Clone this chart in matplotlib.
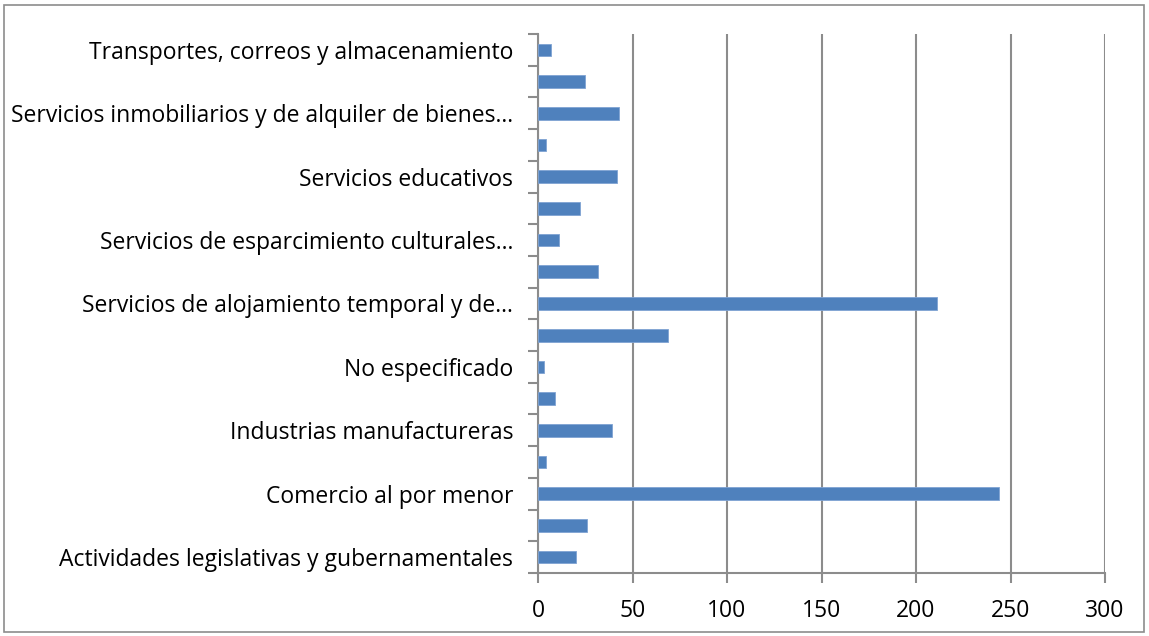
import matplotlib
matplotlib.use("Agg")
import matplotlib.pyplot as plt
from matplotlib.patches import Rectangle

# categories bottom to top; only every other one carries a label
labels = [
    "Actividades legislativas y gubernamentales", "",
    "Comercio al por menor", "",
    "Industrias manufactureras", "",
    "No especificado", "",
    "Servicios de alojamiento temporal y de\u2026", "",
    "Servicios de esparcimiento culturales\u2026", "",
    "Servicios educativos", "",
    "Servicios inmobiliarios y de alquiler de bienes\u2026", "",
    "Transportes, correos y almacenamiento",
]
values = [20, 26, 244, 4, 39, 9, 3, 69, 211, 32, 11, 22, 42, 4, 43, 25, 7]
xticks = [0, 50, 100, 150, 200, 250, 300]

plt.rcParams['font.family'] = ['Open Sans', 'DejaVu Sans']
grid_col = '#8c8c8c'
bar_col = '#4f81bd'
fs = 16.5

fig = plt.figure(figsize=(11.49, 6.36), dpi=100)
ax = fig.add_axes([538/1149, (636-573)/636, (1105-538)/1149, (573-34)/636])

pos = list(range(len(values)))
ax.barh(pos, values, height=0.4, color=bar_col, edgecolor='#7fa3d3', linewidth=0.6, zorder=3)

ax.set_xlim(0, 300)
ax.set_ylim(-0.5, len(values) - 0.5)
ax.set_xticks(xticks)
ax.set_xticklabels([str(t) for t in xticks], fontsize=fs)
ax.set_yticks(pos)
ax.set_yticklabels(labels, fontsize=fs)
ax.tick_params(axis='y', length=0, pad=18)
ax.set_yticks([p - 0.5 for p in pos] + [len(values) - 0.5], minor=True)
ax.tick_params(axis='y', which='minor', length=7, width=1.5, color=grid_col, direction='out')
ax.tick_params(axis='x', length=7, width=1.5, color=grid_col, direction='out', pad=12)

ax.grid(axis='x', color=grid_col, linewidth=1.5, zorder=0)
for side in ('top', 'right'):
    ax.spines[side].set_visible(False)
for side in ('left', 'bottom'):
    ax.spines[side].set_color(grid_col)
    ax.spines[side].set_linewidth(1.5)

# outer frame of the chart area
fig.patches.append(Rectangle((4/1149, 4/636), 1 - 9/1149, 1 - 9/636,
                             transform=fig.transFigure, fill=False,
                             edgecolor='#8c8c8c', linewidth=1.2))

fig.savefig('out.png', dpi=100)
